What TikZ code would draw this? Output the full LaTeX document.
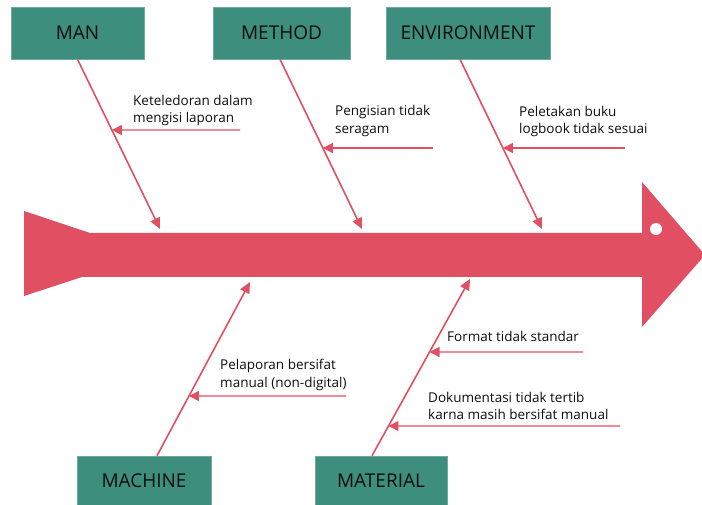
\documentclass[tikz,border=0pt]{standalone}
\usepackage{fontspec}
\setmainfont{Open Sans}
\usetikzlibrary{arrows.meta,calc}
\definecolor{fbred}{RGB}{224,80,98}
\definecolor{fbteal}{RGB}{62,142,126}
\begin{document}
\begin{tikzpicture}[x=1pt,y=-1pt,
  catbox/.style={fill=fbteal, draw=fbteal!75!white, line width=0.6pt, minimum height=52pt, inner sep=0pt, font=\fontsize{19}{21}\selectfont, text=black!95},
  bone/.style={draw=fbred, line width=1.6pt, -{Triangle[length=11pt,width=10pt]}},
  twig/.style={draw=fbred, line width=1.4pt, -{Triangle[length=10pt,width=10pt]}},
  lbl/.style={align=left, anchor=west, inner sep=0pt, font=\fontsize{13.5}{17.5}\selectfont, text=black!95}]
\useasboundingbox (0,0) rectangle (702,505);
% spine
\fill[fbred] (24,211) -- (90,233) -- (642,233) -- (642,182) -- (705,255) -- (642,327) -- (642,277) -- (82,277) -- (24,296) -- cycle;
\fill[white] (656,229) circle[radius=6pt];
% category boxes
\node[catbox, minimum width=133pt] (man) at (77.5,33) {MAN};
\node[catbox, minimum width=137pt] (method) at (281.5,33) {METHOD};
\node[catbox, minimum width=164pt] (env) at (468,33) {ENVIRONMENT};
\node[catbox, minimum width=134pt, minimum height=49pt] (machine) at (144,480.5) {MACHINE};
\node[catbox, minimum width=132pt, minimum height=49pt] (material) at (381,480.5) {MATERIAL};
% bones
\coordinate (manS) at (man.south);
\coordinate (manT) at (160,229);
\coordinate (metS) at ([xshift=-1.5pt]method.south);
\coordinate (metT) at (362,229);
\coordinate (envS) at ([xshift=-8pt]env.south);
\coordinate (envT) at (542,229);
\coordinate (macS) at ([xshift=13pt]machine.north);
\coordinate (macT) at (250,282);
\coordinate (matS) at ([xshift=-9pt]material.north);
\coordinate (matT) at (470,279);
\draw[bone] (manS) -- (manT);
\draw[bone] (metS) -- (metT);
\draw[bone] (envS) -- (envT);
\draw[bone] (macS) -- (macT);
\draw[bone] (matS) -- (matT);
% twig tails
\coordinate (t1) at (240,130);
\coordinate (t2) at (433,148);
\coordinate (t3) at (625,148);
\coordinate (t4) at (346,396);
\coordinate (t5) at (583,352);
\coordinate (t6) at (620,426);
\coordinate (h1) at (t1 -| manS);
\coordinate (h2) at (t2 -| metS);
\coordinate (h3) at (t3 -| envS);
\coordinate (h4) at (t4 -| macS);
\coordinate (h5) at (t5 -| matS);
\coordinate (h6) at (t6 -| matS);
\draw[twig] (t1) -- (intersection of manS--manT and t1--h1);
\draw[twig] (t2) -- (intersection of metS--metT and t2--h2);
\draw[twig] (t3) -- (intersection of envS--envT and t3--h3);
\draw[twig] (t4) -- (intersection of macS--macT and t4--h4);
\draw[twig] (t5) -- (intersection of matS--matT and t5--h5);
\draw[twig] (t6) -- (intersection of matS--matT and t6--h6);
% labels
\node[lbl] (l1) at (133,110.5) {Keteledoran dalam\\mengisi laporan};
\node[lbl] (l2) at (335,121) {Pengisian tidak\\seragam};
\node[lbl] (l3) at (519,121.5) {Peletakan buku\\logbook tidak sesuai};
\node[lbl] (l4) at (220,375) {Pelaporan bersifat\\manual (non-digital)};
\node[lbl] (l5) at (447,336) {Format tidak standar};
\node[lbl] (l6) at (428,406) {Dokumentasi tidak tertib\\karna masih bersifat manual};
\end{tikzpicture}
\end{document}
